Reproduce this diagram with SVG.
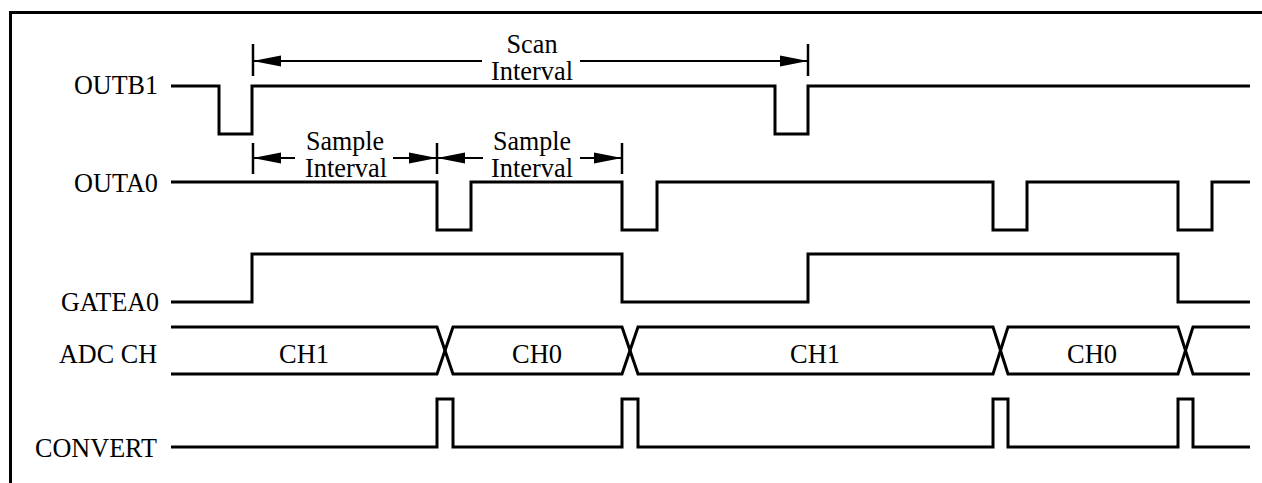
<svg xmlns="http://www.w3.org/2000/svg" width="1262" height="483" viewBox="0 0 1262 483">
  <style>
    .sig { fill: none; stroke: #000; stroke-width: 3; stroke-linejoin: miter; stroke-linecap: butt; }
    .dim { fill: none; stroke: #000; stroke-width: 2; }
    .tick { stroke: #000; stroke-width: 2.5; }
    .lbl { font-family: "Liberation Serif", "Times New Roman", serif; font-size: 27px; fill: #000; }
    .r { text-anchor: end; }
    .c { text-anchor: middle; }
  </style>
  <defs>
    <marker id="ah" markerUnits="userSpaceOnUse" markerWidth="28" markerHeight="12" refX="28" refY="6" orient="auto-start-reverse">
      <path d="M0,0.5 L28,6 L0,11.5 Z" fill="#000"/>
    </marker>
  </defs>
  <rect width="1262" height="483" fill="#fff"/>
  <path d="M10.5,483 V12.5 H1262" fill="none" stroke="#000" stroke-width="3"/>

  <g id="outb1">
    <text class="lbl r" x="158" y="94" textLength="84" lengthAdjust="spacingAndGlyphs">OUTB1</text>
    <path class="sig" d="M171,86 H219 V134 H252 V86 H775 V134 H808 V86 H1250"/>
  </g>
  <g id="outa0">
    <text class="lbl r" x="158" y="192" textLength="84" lengthAdjust="spacingAndGlyphs">OUTA0</text>
    <path class="sig" d="M171,182 H437 V230 H471 V182 H622 V230 H657 V182 H993 V230 H1027 V182 H1178 V230 H1212 V182 H1250"/>
  </g>
  <g id="gatea0">
    <text class="lbl r" x="159" y="311" textLength="98" lengthAdjust="spacingAndGlyphs">GATEA0</text>
    <path class="sig" d="M171,302 H252 V254 H622 V302 H808 V254 H1178 V302 H1250"/>
  </g>
  <g id="adcch">
    <text class="lbl r" x="157" y="363" textLength="98" lengthAdjust="spacingAndGlyphs">ADC CH</text>
    <path class="sig" d="M171,327 H437 L453,374 H622 L638,327 H993 L1008,374 H1178 L1193,327 H1250"/>
    <path class="sig" d="M171,374 H437 L453,327 H622 L638,374 H993 L1008,327 H1178 L1193,374 H1250"/>
    <text class="lbl c" x="304" y="363" textLength="50" lengthAdjust="spacingAndGlyphs">CH1</text>
    <text class="lbl c" x="537" y="363" textLength="50" lengthAdjust="spacingAndGlyphs">CH0</text>
    <text class="lbl c" x="815" y="363" textLength="50" lengthAdjust="spacingAndGlyphs">CH1</text>
    <text class="lbl c" x="1092" y="363" textLength="50" lengthAdjust="spacingAndGlyphs">CH0</text>
  </g>
  <g id="convert">
    <text class="lbl r" x="157" y="457" textLength="122" lengthAdjust="spacingAndGlyphs">CONVERT</text>
    <path class="sig" d="M171,447 H437 V399 H453 V447 H622 V399 H638 V447 H993 V399 H1008 V447 H1178 V399 H1193 V447 H1250"/>
  </g>

  <g id="connectors">
    <g id="scan-interval">
      <line class="tick" x1="253" y1="44" x2="253" y2="76"/>
      <line class="tick" x1="808" y1="44" x2="808" y2="76"/>
      <line class="dim" x1="253" y1="61" x2="482" y2="61" marker-start="url(#ah)"/>
      <line class="dim" x1="580" y1="61" x2="808" y2="61" marker-end="url(#ah)"/>
      <text class="lbl c" x="532" y="53" textLength="51" lengthAdjust="spacingAndGlyphs">Scan</text>
      <text class="lbl c" x="532" y="80" textLength="82" lengthAdjust="spacingAndGlyphs">Interval</text>
    </g>
    <g id="sample-interval-1">
      <line class="tick" x1="253" y1="143" x2="253" y2="174"/>
      <line class="tick" x1="437" y1="143" x2="437" y2="174"/>
      <line class="dim" x1="253" y1="158" x2="295" y2="158" marker-start="url(#ah)"/>
      <line class="dim" x1="393" y1="158" x2="437" y2="158" marker-end="url(#ah)"/>
      <text class="lbl c" x="345" y="150" textLength="78" lengthAdjust="spacingAndGlyphs">Sample</text>
      <text class="lbl c" x="346" y="177" textLength="82" lengthAdjust="spacingAndGlyphs">Interval</text>
    </g>
    <g id="sample-interval-2">
      <line class="tick" x1="622" y1="143" x2="622" y2="174"/>
      <line class="dim" x1="437" y1="158" x2="483" y2="158" marker-start="url(#ah)"/>
      <line class="dim" x1="580" y1="158" x2="622" y2="158" marker-end="url(#ah)"/>
      <text class="lbl c" x="532" y="150" textLength="78" lengthAdjust="spacingAndGlyphs">Sample</text>
      <text class="lbl c" x="532" y="177" textLength="82" lengthAdjust="spacingAndGlyphs">Interval</text>
    </g>
  </g>
</svg>
